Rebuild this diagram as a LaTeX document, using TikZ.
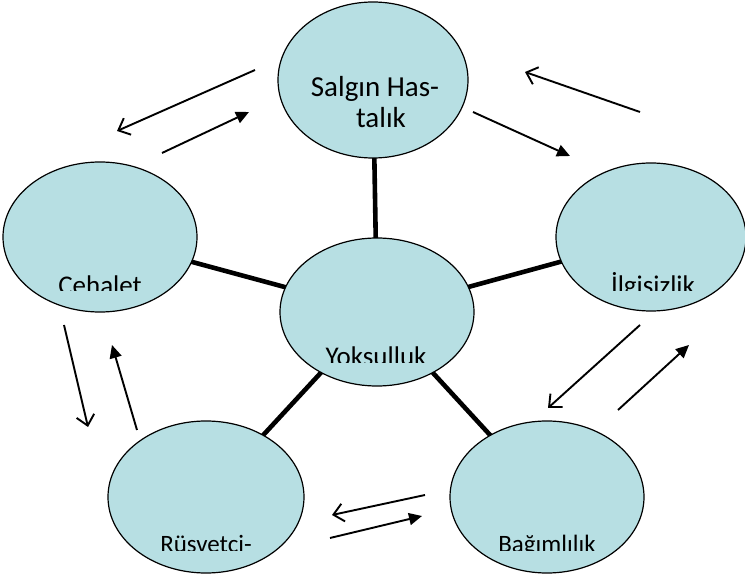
\documentclass[tikz,border=0pt]{standalone}
\usepackage{fontspec}
\setmainfont{Carlito}
\usetikzlibrary{shapes.geometric,arrows.meta}
\definecolor{bubble}{HTML}{B7DFE3}
\pgfdeclarelayer{bg}
\pgfsetlayers{bg,main}
\begin{document}
\begin{tikzpicture}[x=1pt,y=-1pt,
  bub/.style={ellipse,draw=black,line width=1.2pt,fill=bubble,inner sep=0pt,outer sep=0pt},
  spoke/.style={line width=4.6pt},
  backarrow/.style={line width=1.9pt,-{Straight Barb[length=10pt,width=18pt,line width=1.9pt]}},
  fwdarrow/.style={line width=1.9pt,-{Triangle[length=13pt,width=12pt]}},
  lbl/.style={anchor=base,inner sep=0pt,font=\fontsize{27}{31}\selectfont},
  lbls/.style={anchor=base,inner sep=0pt,font=\fontsize{25}{30}\selectfont}]
\useasboundingbox (0,0) rectangle (745,577);
% bubbles
\node[bub,minimum width=194pt,minimum height=148pt] (yok) at (377,312) {};
\node[bub,minimum width=190pt,minimum height=156pt] (sal) at (373,80) {};
\node[bub,minimum width=194pt,minimum height=150pt] (ceh) at (100,237) {};
\node[bub,minimum width=190pt,minimum height=148pt] (ilg) at (651,237) {};
\node[bub,minimum width=196pt,minimum height=152pt] (rus) at (206,497) {};
\node[bub,minimum width=194pt,minimum height=152pt] (bag) at (547,497) {};
% spokes
\begin{pgfonlayer}{bg}
\draw[spoke] (yok.center) -- (sal.center);
\draw[spoke] (yok.center) -- (ceh.center);
\draw[spoke] (yok.center) -- (ilg.center);
\draw[spoke] (yok.center) -- (rus.center);
\draw[spoke] (yok.center) -- (bag.center);
\end{pgfonlayer}
% labels
\node[anchor=base,inner sep=0pt,font=\fontsize{29}{31}\selectfont] (salT1) at (375,97) {Salgın Has-};
\node[anchor=base,inner sep=0pt,font=\fontsize{29}{31}\selectfont] (salT2) at (381,128) {talık};
\begin{scope}
\clip (0,250) rectangle (200,291);
\node[lbl] (cehT) at (100,295) {Cehalet};
\end{scope}
\begin{scope}
\clip (560,250) rectangle (745,291);
\node[lbl] (ilgT) at (653,295) {İlgisizlik};
\end{scope}
\begin{scope}
\clip (290,320) rectangle (470,363);
\node[lbl] (yokT) at (376,366) {Yoksulluk};
\end{scope}
\begin{scope}
\clip (110,510) rectangle (300,550);
\node[lbls] (rusT) at (206,552) {Rüsvetci-};
\end{scope}
\begin{scope}
\clip (455,510) rectangle (640,550);
\node[lbls] (bagT) at (547,552) {Bağımlılık};
\end{scope}
% arrow end points
\coordinate (a1s) at (255,70);  \coordinate (a1e) at (117,131);
\coordinate (a2s) at (162,153); \coordinate (a2e) at (249,112);
\coordinate (a3s) at (640,112); \coordinate (a3e) at (525,72);
\coordinate (a4s) at (473,112); \coordinate (a4e) at (570,156);
\coordinate (a5s) at (64,325);  \coordinate (a5e) at (88,427);
\coordinate (a6s) at (137,430); \coordinate (a6e) at (112,345);
\coordinate (a7s) at (640,325); \coordinate (a7e) at (548,408);
\coordinate (a8s) at (618,410); \coordinate (a8e) at (689,345);
\coordinate (a9s) at (425,495); \coordinate (a9e) at (332,515);
\coordinate (a10s) at (330,538); \coordinate (a10e) at (422,516);
\draw[backarrow] (a1s) -- (a1e);
\draw[fwdarrow] (a2s) -- (a2e);
\draw[backarrow] (a3s) -- (a3e);
\draw[fwdarrow] (a4s) -- (a4e);
\draw[backarrow] (a5s) -- (a5e);
\draw[fwdarrow] (a6s) -- (a6e);
\draw[backarrow] (a7s) -- (a7e);
\draw[fwdarrow] (a8s) -- (a8e);
\draw[backarrow] (a9s) -- (a9e);
\draw[fwdarrow] (a10s) -- (a10e);
\end{tikzpicture}
\end{document}
